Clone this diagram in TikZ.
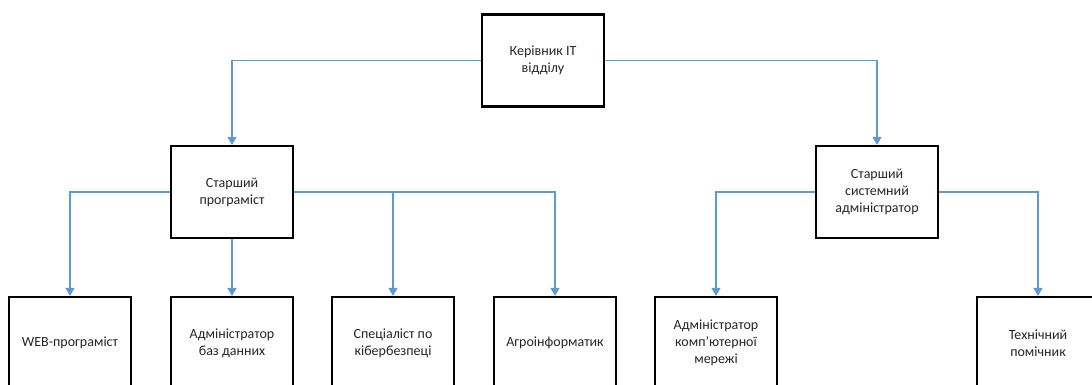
\documentclass[tikz,border=0pt]{standalone}
\usepackage{fontspec}
\setmainfont{Carlito}
\usetikzlibrary{arrows.meta}
\definecolor{linkblue}{HTML}{5B9BD5}
\definecolor{txt}{HTML}{262626}
\tikzset{
  unit/.style={draw=black, line width=2.2pt, fill=white, minimum width=122pt,
    minimum height=92pt, inner sep=3pt, align=center, text=txt,
    font=\fontsize{14}{17}\selectfont},
  conn/.style={draw=linkblue, line width=1.3pt,
    -{Triangle[length=8pt,width=9pt]}},
}
\begin{document}
\begin{tikzpicture}[x=1pt,y=-1pt]
\useasboundingbox (0,0) rectangle (1092,385);
% top level
\node[unit] (head) at (543,60.5) {Керівник IT\\відділу};
% second level
\node[unit] (sprog) at (232,192) {Старший\\програміст};
\node[unit] (sadm) at (877,192) {Старший\\системний\\адміністратор};
% third level
\node[unit] (web) at (70,343) {WEB-програміст};
\node[unit] (dba) at (232,343) {Адміністратор\\баз данних};
\node[unit] (sec) at (393,343) {Спеціаліст по\\кібербезпеці};
\node[unit] (agro) at (555,343) {Агроінформатик};
\node[unit] (net) at (716,343) {Адміністратор\\комп’ютерної\\мережі};
\node[unit] (tech) at (1038,343) {Технічний\\помічник};
% connectors
\draw[conn] (head.west) -| (sprog.north);
\draw[conn] (head.east) -| (sadm.north);
\draw[conn] (sprog.west) -| (web.north);
\draw[conn] (sprog.south) -- (dba.north);
\draw[conn] (sprog.east) -| (sec.north);
\draw[conn] (sprog.east) -| (agro.north);
\draw[conn] (sadm.west) -| (net.north);
\draw[conn] (sadm.east) -| (tech.north);
\end{tikzpicture}
\end{document}
